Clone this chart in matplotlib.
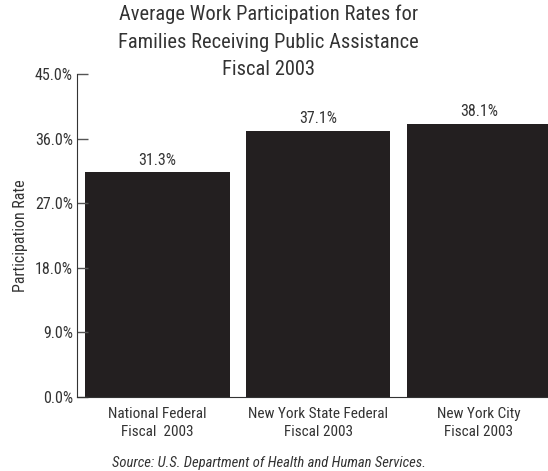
import matplotlib.pyplot as plt
from matplotlib import font_manager

categories = ['National Federal\nFiscal  2003', 'New York State Federal\nFiscal 2003', 'New York City\nFiscal 2003']
rates = [31.3, 37.1, 38.1]
yticks = [0, 9, 18, 27, 36, 45]

names = {f.name for f in font_manager.fontManager.ttflist}
wanted = ['Roboto Condensed', 'Liberation Sans Narrow', 'Arial Narrow', 'Roboto', 'Liberation Sans']
font = next((n for n in wanted if n in names), 'DejaVu Sans')
plt.rcParams['font.family'] = [font, 'DejaVu Sans']

txt = '#333333'
fig = plt.figure(figsize=(5.48, 4.71), dpi=100)
ax = fig.add_axes([77/548, 1 - 397/471, 1 - 77/548, (397 - 74)/471])

x = range(len(rates))
ax.bar(x, rates, width=0.9, color='#231f20')
for i, v in enumerate(rates):
    ax.text(i, v + 0.6, f'{v:.1f}%', ha='center', va='bottom', fontsize=11.5, color=txt)

ax.set_xlim(-0.5, 2.43)
ax.set_ylim(0, 45)
ax.set_yticks(yticks)
ax.set_yticklabels([f'{t:.1f}%' for t in yticks], fontsize=11.5, color=txt)
ax.set_xticks(list(x))
ax.set_xticklabels(categories, fontsize=11, color=txt, linespacing=1.35)
ax.tick_params(axis='y', direction='in', length=8, width=1, color='#555555', pad=3)
ax.tick_params(axis='x', length=0, pad=7)
ax.spines['top'].set_visible(False)
ax.spines['right'].set_visible(False)
ax.spines['left'].set_color('#333333')
ax.spines['bottom'].set_color('#333333')
ax.set_ylabel('Participation Rate', fontsize=11.5, color=txt, labelpad=5)

fig.text(0.49, 1 - 5/471, 'Average Work Participation Rates for\nFamilies Receiving Public Assistance\nFiscal 2003',
         ha='center', va='top', fontsize=14.8, color=txt, linespacing=1.55)
fig.text(0.49, 0.003, 'Source: U.S. Department of Health and Human Services.',
         ha='center', va='bottom', fontsize=10.5, style='italic', color=txt)

fig.savefig('out.png', dpi=100)
